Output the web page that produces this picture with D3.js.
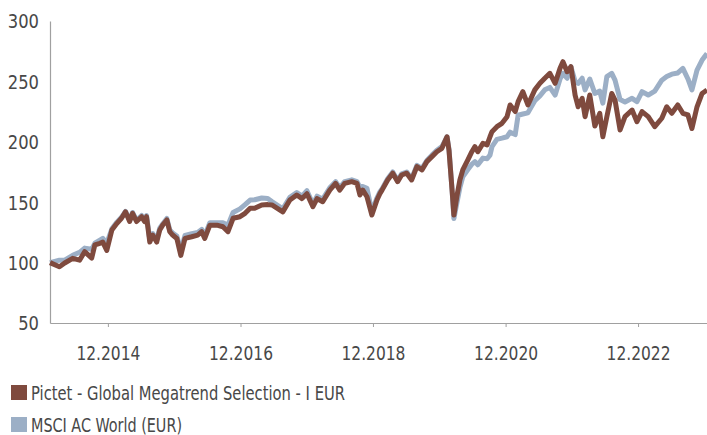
<!DOCTYPE html>
<html>
<head>
<meta charset="utf-8">
<script src="https://cdn.jsdelivr.net/npm/d3@7"></script>
<style>
  body { margin: 0; background: #fff; }
  svg text { font-family: "DejaVu Sans", sans-serif; font-stretch: condensed; fill: #484848; }
</style>
</head>
<body>
<div id="chart"></div>
<script>
// values (indexed, start = 100)
var dates = ["2014-02-15","2014-04-08","2014-05-07","2014-06-20","2014-07-28","2014-08-25","2014-10-03","2014-10-20","2014-11-17","2014-12-03",
  "2014-12-25","2015-01-22","2015-02-19","2015-03-16","2015-04-07","2015-04-30","2015-05-16","2015-06-07","2015-07-05","2015-07-21",
  "2015-08-01","2015-08-19","2015-09-04","2015-09-26","2015-10-13","2015-10-29","2015-11-21","2015-12-07","2015-12-23","2016-01-15",
  "2016-02-06","2016-02-29","2016-04-06","2016-05-09","2016-05-31","2016-06-17","2016-07-15","2016-08-23","2016-09-25","2016-10-23",
  "2016-11-20","2016-12-28","2017-01-25","2017-02-22","2017-03-19","2017-04-27","2017-05-30","2017-06-22","2017-08-21","2017-09-29",
  "2017-11-06","2017-12-05","2018-01-01","2018-02-03","2018-02-26","2018-03-29","2018-05-07","2018-06-08","2018-07-01","2018-07-28",
  "2018-09-05","2018-10-04","2018-10-20","2018-11-05","2018-11-28","2018-12-25","2019-01-22","2019-02-07","2019-02-19","2019-03-22",
  "2019-04-19","2019-05-16","2019-06-07","2019-07-05","2019-08-01","2019-08-30","2019-09-27","2019-10-24","2019-11-21","2019-12-18",
  "2020-01-15","2020-02-12","2020-02-23","2020-03-11","2020-03-21","2020-04-06","2020-04-23","2020-05-09","2020-06-06","2020-06-28",
  "2020-07-15","2020-07-31","2020-08-28","2020-09-20","2020-10-06","2020-10-17","2020-11-13","2020-12-11","2021-01-08","2021-01-25",
  "2021-02-22","2021-03-10","2021-04-05","2021-05-03","2021-06-10","2021-07-08","2021-08-04","2021-09-01","2021-09-30","2021-10-27",
  "2021-11-12","2021-12-05","2021-12-26","2022-01-18","2022-02-04","2022-02-26","2022-03-14","2022-04-09","2022-05-07","2022-06-03",
  "2022-06-20","2022-07-12","2022-08-08","2022-08-26","2022-09-23","2022-10-20","2022-11-28","2022-12-25","2023-01-22","2023-02-25",
  "2023-04-02","2023-05-11","2023-06-07","2023-07-05","2023-08-07","2023-09-04","2023-10-02","2023-10-24","2023-11-21","2023-12-19",
  "2024-01-15"];

var pictet = [100,96.6,99.7,103.5,102,109,103.8,114.6,116,117,
  110,127,132.5,136.7,142,134,140.8,134,138,134,
  138,117,122.8,117,127,131,135.3,125.6,122.8,120,
  106,120,121.4,122.8,125.6,120,131,131,129.7,125.6,
  136.7,138,140.8,145,145,147.7,148,147.7,142,151.8,
  156,153,157,146.3,153,150.4,160,165.6,160,165.6,
  167,165.6,156,160,154.5,139.4,151.8,157,160,168.4,
  174,167,172.5,174,168.4,179.4,176.7,183.6,187.7,191.8,
  194.6,204.2,193,160,139.4,154.5,168.4,176.7,185,191.8,
  196,191.8,198.7,197.4,204.2,208.4,212.5,215.3,220.8,230.5,
  225,233.3,241.5,230.5,243,248.4,252.6,256.7,248.4,260.8,
  266.3,258,262.2,238.7,229,236,220.8,238.7,213,223.6,
  204.2,220.8,240,234.6,209.8,220.8,226.3,216.6,225,220.8,
  212.5,219.5,229,223.6,230.5,223.6,222.2,211,229,240,
  242.9];

var msci = [100,102,102,106,108.5,112,111,116,118.5,120,
  116,128,133.5,137.5,142.5,135,141.5,135,139,135,
  139,119,124,119,128.5,132,136.5,127,124.5,122,
  110,122.5,124,125,127.5,122.5,133,133,133,131,
  141.5,144.5,148,151.8,152,153.5,153,150.5,144.5,154,
  158,155,159.5,148.5,155,152.5,162,167,162,167,
  168.5,167,162.5,163,161.5,142,153.5,158.5,161,169.5,
  175,168,173.5,175,169.5,180.5,178,184.5,189,193,
  196,204,194,160,136.5,149,162,171,177,181.5,
  183.6,181,186.5,186,189,196,202,203,204.2,208,
  206,222,223,224,234,238,243,245,238.7,252,
  256.7,252.6,262.2,250,248.4,252.6,243,252,240,242,
  232,254,256.7,251,235,233,236,233.3,241.5,238.7,
  242,251,254,256,257,260.8,252,243,259.4,267.7,
  273];

var yTicks = [50, 100, 150, 200, 250, 300];
var xTicks = ["2014-12-31","2016-12-31","2018-12-31","2020-12-31","2022-12-31"];
var seriesNames = ["Pictet - Global Megatrend Selection - I EUR", "MSCI AC World (EUR)"];
var seriesColors = ["#7f4a3e", "#9cafc6"];
var legendWidths = [314, 151];

var width = 707, height = 435;
var margin = {top: 21, right: 0, bottom: 112, left: 50};
var parse = d3.timeParse("%Y-%m-%d");
var fmt = d3.timeFormat("%m.%Y");

var svg = d3.select("#chart").append("svg")
    .attr("width", width)
    .attr("height", height);

var x = d3.scaleTime()
    .domain([parse(dates[0]), parse(dates[dates.length - 1])])
    .range([margin.left, width - margin.right]);

var y = d3.scaleLinear()
    .domain([50, 300])
    .range([height - margin.bottom, margin.top]);

// y axis: line + labels, no ticks
var yAxis = svg.append("g")
    .attr("transform", "translate(" + margin.left + ",0)")
    .call(d3.axisLeft(y).tickValues(yTicks).tickSize(0).tickPadding(11));
yAxis.select(".domain").attr("stroke", "#a0a0a0").attr("stroke-width", 1.2);
yAxis.selectAll("text")
    .style("font-size", "19px")
    .attr("dy", "0.36em")
    .attr("textLength", function(d) { return String(d).length * 10.4; })
    .attr("lengthAdjust", "spacingAndGlyphs");

// x axis
var xAxis = svg.append("g")
    .attr("transform", "translate(0," + (height - margin.bottom) + ")")
    .call(d3.axisBottom(x).tickValues(xTicks.map(parse)).tickFormat(fmt).tickSizeInner(4).tickSizeOuter(0).tickPadding(20));
xAxis.select(".domain").attr("stroke", "#a0a0a0").attr("stroke-width", 1.2);
xAxis.selectAll(".tick line").attr("stroke", "#a0a0a0");
xAxis.selectAll("text")
    .style("font-size", "19px")
    .attr("textLength", 64)
    .attr("lengthAdjust", "spacingAndGlyphs");

var line = d3.line()
    .x(function(d) { return x(d.date); })
    .y(function(d) { return y(d.value); });

function rows(vals) {
  return dates.map(function(dt, i) { return {date: parse(dt), value: vals[i]}; });
}

// MSCI first so the fund line sits on top
[msci, pictet].forEach(function(vals, i) {
  svg.append("path")
      .datum(rows(vals))
      .attr("fill", "none")
      .attr("stroke", i === 0 ? seriesColors[1] : seriesColors[0])
      .attr("stroke-width", 5)
      .attr("stroke-linejoin", "round")
      .attr("d", line);
});

// legend
var legend = svg.append("g");
seriesNames.forEach(function(name, i) {
  var g = legend.append("g").attr("transform", "translate(11," + (385 + i * 32) + ")");
  g.append("rect").attr("width", 16).attr("height", 15).attr("fill", seriesColors[i]);
  g.append("text")
      .attr("x", 20).attr("y", 14.5)
      .style("font-size", "19px")
      .attr("textLength", legendWidths[i])
      .attr("lengthAdjust", "spacingAndGlyphs")
      .text(name);
});
</script>
</body>
</html>
